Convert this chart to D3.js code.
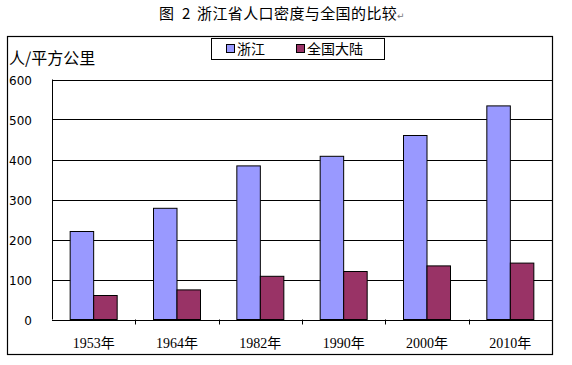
<!DOCTYPE html>
<html>
<head>
<meta charset="utf-8">
<script src="https://cdn.jsdelivr.net/npm/d3@7"></script>
<style>
  body { margin: 0; background: #fff; }
</style>
</head>
<body>
<svg id="canvas" width="572" height="365"></svg>
<script>
const years = ['1953年', '1964年', '1982年', '1990年', '2000年', '2010年'];
const zhejiang = [220, 278, 384, 408, 460, 534];
const mainland = [60, 74, 108, 120, 134, 141];
const seriesNames = ['浙江', '全国大陆'];
const yTicks = [0, 100, 200, 300, 400, 500, 600];

const colors = ['#9999ff', '#993366'];

let canvas = d3.select('#canvas');

// plot area
const plotLeft = 52, plotRight = 552, plotTop = 79.5, plotBottom = 319.5;

const x = d3.scaleBand()
    .domain(years)
    .range([plotLeft, plotRight]);

const y = d3.scaleLinear()
    .domain([0, 600])
    .range([plotBottom, plotTop]);

const inner = d3.scaleBand()
    .domain([0, 1])
    .range([0, 47]);

// title, pieces placed like the original's wide spacing
const titleFont = 'Noto Sans CJK SC';
canvas.append('text')
    .attr('x', 159).attr('y', 19)
    .attr('font-family', titleFont).attr('font-size', 15)
    .text('图');
canvas.append('text')
    .attr('x', 182).attr('y', 19)
    .attr('font-family', titleFont).attr('font-size', 15)
    .text('2');
canvas.append('text')
    .attr('x', 197).attr('y', 19)
    .attr('font-family', titleFont).attr('font-size', 15)
    .attr('letter-spacing', 0.4)
    .text('浙江省人口密度与全国的比较');

canvas.append('text')
    .attr('x', 397)
    .attr('y', 19)
    .attr('font-family', 'DejaVu Sans')
    .attr('font-size', 9)
    .attr('fill', '#777')
    .text('↵');

// outer frame
canvas.append('rect')
    .attr('x', 7.5)
    .attr('y', 36.5)
    .attr('width', 545)
    .attr('height', 318)
    .attr('fill', 'none')
    .attr('stroke', '#000')
    .attr('stroke-width', 1.2);

// gridlines
canvas.selectAll('.grid')
    .data(yTicks.filter(d => d > 0))
    .enter()
    .append('line')
    .attr('x1', plotLeft)
    .attr('x2', plotRight)
    .attr('y1', d => Math.round(y(d)) + 0.5)
    .attr('y2', d => Math.round(y(d)) + 0.5)
    .attr('stroke', '#000');

// left axis line
canvas.append('line')
    .attr('x1', plotLeft + 0.5)
    .attr('x2', plotLeft + 0.5)
    .attr('y1', y(600))
    .attr('y2', y(0))
    .attr('stroke', '#000');

// y tick labels
canvas.selectAll('.ylab')
    .data(yTicks)
    .enter()
    .append('text')
    .attr('x', 32)
    .attr('y', d => y(d) + 5)
    .attr('text-anchor', 'end')
    .attr('font-family', 'DejaVu Sans')
    .attr('font-size', 12)
    .text(d => d);

// bars
const groups = canvas.selectAll('.grp')
    .data(years)
    .enter()
    .append('g')
    .attr('transform', d => 'translate(' + (x(d) + (x.bandwidth() - 47) / 2) + ',0)');

[zhejiang, mainland].forEach((vals, s) => {
    groups.append('rect')
        .attr('x', inner(s))
        .attr('y', (d, i) => y(vals[i]))
        .attr('width', inner.bandwidth())
        .attr('height', (d, i) => y(0) - y(vals[i]))
        .attr('fill', colors[s])
        .attr('stroke', '#000')
        .attr('stroke-width', 1);
});

// x axis
canvas.append('line')
    .attr('x1', plotLeft)
    .attr('x2', plotRight)
    .attr('y1', Math.round(y(0)) + 0.5)
    .attr('y2', Math.round(y(0)) + 0.5)
    .attr('stroke', '#000');

canvas.selectAll('.xtick')
    .data(years.slice(1))
    .enter()
    .append('line')
    .attr('x1', d => Math.round(x(d)) + 0.5)
    .attr('x2', d => Math.round(x(d)) + 0.5)
    .attr('y1', y(0))
    .attr('y2', y(0) + 5)
    .attr('stroke', '#000');

canvas.selectAll('.xlab')
    .data(years)
    .enter()
    .append('text')
    .attr('x', d => x(d) + x.bandwidth() / 2)
    .attr('y', 348)
    .attr('text-anchor', 'middle')
    .attr('font-family', 'Liberation Serif, Noto Sans CJK SC')
    .attr('font-size', 14)
    .text(d => d);

// y axis title
canvas.append('text')
    .attr('x', 9)
    .attr('y', 64)
    .attr('font-family', 'Noto Sans CJK SC')
    .attr('font-size', 16)
    .text('人/平方公里');

// legend
canvas.append('rect')
    .attr('x', 211.5)
    .attr('y', 38.5)
    .attr('width', 173)
    .attr('height', 21)
    .attr('fill', '#fff')
    .attr('stroke', '#000');

const legendX = [226, 296];
seriesNames.forEach((name, i) => {
    canvas.append('rect')
        .attr('x', legendX[i] + 0.5)
        .attr('y', 44.5)
        .attr('width', 8)
        .attr('height', 8)
        .attr('fill', colors[i])
        .attr('stroke', '#000');
    canvas.append('text')
        .attr('x', legendX[i] + 11)
        .attr('y', 54)
        .attr('font-family', 'Noto Sans CJK SC')
        .attr('font-size', 14)
        .text(name);
});
</script>
</body>
</html>
